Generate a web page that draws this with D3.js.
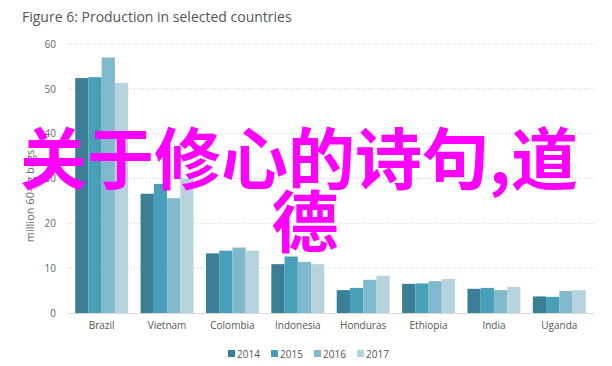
<!DOCTYPE html>
<html>
<head>
<meta charset="utf-8">
<script src="https://cdn.jsdelivr.net/npm/d3@7"></script>
<style>
  body { margin: 0; background: #fff; }
  svg { font-family: "Open Sans", "Noto Sans", sans-serif; }
</style>
</head>
<body>
<svg id="chart" width="612" height="366"></svg>
<script>
const countries = ["Brazil", "Vietnam", "Colombia", "Indonesia", "Honduras", "Ethiopia", "India", "Uganda"];
const years = ["2014", "2015", "2016", "2017"];
const v2014 = [52.4, 26.6, 13.3, 10.9, 5.1, 6.5, 5.4, 3.7];
const v2015 = [52.6, 28.8, 13.9, 12.6, 5.6, 6.6, 5.6, 3.6];
const v2016 = [57.0, 25.6, 14.6, 11.4, 7.4, 7.1, 5.1, 4.9];
const v2017 = [51.3, 30.0, 13.9, 10.9, 8.3, 7.6, 5.8, 5.1];
const yTicks = [0, 10, 20, 30, 40, 50, 60];

const series = [v2014, v2015, v2016, v2017];
const colors = ["#3b7f97", "#48a0b8", "#80b9cc", "#b7d3de"];

const svg = d3.select("#chart");

const x0 = d3.scaleBand().domain(countries).range([69, 592]).paddingInner(0.19).paddingOuter(0.095);
const x1 = d3.scaleBand().domain(years).range([0, x0.bandwidth()]);
const y = d3.scaleLinear().domain([0, 60]).range([313, 44]);

// title
svg.append("text")
    .attr("x", 22).attr("y", 22)
    .attr("font-size", 14).attr("fill", "#555")
    .text("Figure 6: Production in selected countries");

// grid
svg.append("g")
    .selectAll("line")
    .data(yTicks.filter(d => d > 0))
    .enter()
    .append("line")
    .attr("x1", 68).attr("x2", 594)
    .attr("y1", d => y(d)).attr("y2", d => y(d))
    .attr("stroke", "#cfcfcf")
    .attr("stroke-dasharray", "1,2");

// y axis labels
const yAxis = svg.append("g")
    .attr("transform", "translate(60,0)")
    .call(d3.axisLeft(y).tickValues(yTicks).tickSize(0).tickPadding(4));
yAxis.select(".domain").remove();
yAxis.selectAll("text").attr("font-size", 10).attr("fill", "#666").attr("font-family", "Open Sans");

svg.append("text")
    .attr("transform", "translate(34,196) rotate(-90)")
    .attr("text-anchor", "middle")
    .attr("font-size", 11).attr("fill", "#666")
    .text("million 60-kg bags");

// bars
const groups = svg.append("g")
    .selectAll("g")
    .data(countries)
    .enter()
    .append("g")
    .attr("transform", d => `translate(${x0(d)},0)`);

groups.selectAll("rect")
    .data((c, i) => years.map((yr, j) => ({ yr, v: series[j][i], j })))
    .enter()
    .append("rect")
    .attr("x", d => x1(d.yr))
    .attr("width", x1.bandwidth())
    .attr("y", d => y(d.v))
    .attr("height", d => y(0) - y(d.v))
    .attr("fill", d => colors[d.j]);

// baseline
svg.append("line")
    .attr("x1", 68).attr("x2", 594)
    .attr("y1", y(0) + 0.5).attr("y2", y(0) + 0.5)
    .attr("stroke", "#d9d9d9");

// x labels
const xAxis = svg.append("g")
    .attr("transform", `translate(0,${y(0)})`)
    .call(d3.axisBottom(x0).tickSize(0).tickPadding(9));
xAxis.select(".domain").remove();
xAxis.selectAll("text").attr("font-size", 10).attr("fill", "#555").attr("font-family", "Open Sans");

// legend
const legend = svg.append("g")
    .selectAll("g")
    .data(years)
    .enter()
    .append("g")
    .attr("transform", (d, i) => `translate(${228 + i * 43},350)`);
legend.append("rect")
    .attr("width", 7).attr("height", 7).attr("y", 0)
    .attr("fill", (d, i) => colors[i]);
legend.append("text")
    .attr("x", 9).attr("y", 7.5)
    .attr("font-size", 10).attr("fill", "#555")
    .text(d => d);

// overlay text
const overlay = svg.append("text")
    .attr("text-anchor", "middle")
    .attr("font-family", "Noto Sans CJK SC")
    .attr("font-weight", "bold")
    .attr("font-size", 67)
    .attr("fill", "#ff00ff");
overlay.append("tspan").attr("x", 299).attr("y", 184).text("关于修心的诗句,道");
overlay.append("tspan").attr("x", 305).attr("y", 247).text("德");
</script>
</body>
</html>
